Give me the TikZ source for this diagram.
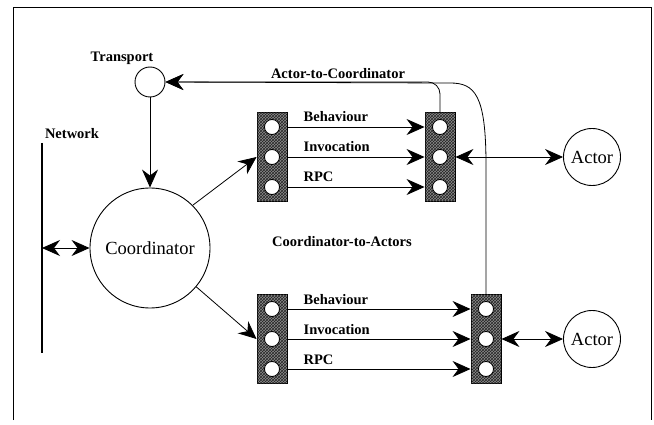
\documentclass[tikz,border=0pt]{standalone}
\usepackage{fontspec}
\setmainfont{Liberation Serif}
\usetikzlibrary{arrows.meta,patterns,positioning}
\tikzstyle{lab} = [font=\bfseries\fontsize{14.5}{16}\selectfont, inner sep=0pt]
\tikzstyle{big} = [draw, circle, line width=0.9pt, font=\fontsize{18.5}{20}\selectfont, inner sep=0pt]
\tikzstyle{port} = [draw, line width=0.9pt, minimum width=30pt, minimum height=89pt, inner sep=0pt, fill=black!45, postaction={pattern=crosshatch, pattern color=black!85}]
\tikzstyle{hole} = [draw, circle, fill=white, line width=0.8pt, minimum size=15pt, inner sep=0pt]
\tikzstyle{tip} = [line width=0.8pt, -{Stealth[length=18pt,width=16pt,inset=6pt]}]
\tikzstyle{tips} = [line width=0.8pt, {Stealth[length=18pt,width=16pt,inset=6pt]}-{Stealth[length=18pt,width=16pt,inset=6pt]}]

\begin{document}
\begin{tikzpicture}[x=1pt,y=-1pt]
  \useasboundingbox (0,0) rectangle (654,425);
  % Frame
  \draw[line width=0.8pt] (13,420) -- (13,7) -- (651,7) -- (651,420);
  % Coordinator side
  \node[big, minimum size=30pt] (tr) at (150,82) {};
  \node[lab] (trl) at (122,58) {Transport};
  \node[big, minimum size=120pt] (co) at (150,248) {Coordinator};
  \node[lab] (nwl) at (72,134) {Network};
  \coordinate (nw1) at (42,143);
  \coordinate (nw2) at (42,353);
  \coordinate (nw) at (42,248);
  \draw[line width=2.6pt] (nw1) -- (nw2);
  \draw[tips] (nw) -- (co.west);
  \draw[tip] (tr.south) -- (co.north);
  % Ports
  \node[port] (pl1) at (272,157) {};
  \node[port] (pr1) at (440,157) {};
  \node[port] (pl2) at (272,339) {};
  \node[port] (pr2) at (486,339) {};
  \foreach \p in {pl1,pr1,pl2,pr2}{
    \node[hole] (\p a) at ([yshift=30pt]\p.center) {};
    \node[hole] (\p b) at (\p.center) {};
    \node[hole] (\p c) at ([yshift=-30pt]\p.center) {};
  }
  % Coordinator-to-Actors
  \draw[tip] (co.45) -- (pl1.west |- pl1b);
  \draw[tip] (co.-40) -- (pl2.west |- pl2b);
  \foreach \l/\r in {pl1/pr1,pl2/pr2}{
    \draw[tip] (\l.east |- \l a) -- (\r.west |- \l a);
    \draw[tip] (\l.east |- \l b) -- (\r.west |- \l b);
    \draw[tip] (\l.east |- \l c) -- (\r.west |- \l c);
    \node[lab, anchor=base west] at ([xshift=16pt,yshift=5pt]\l.east |- \l a) {Behaviour};
    \node[lab, anchor=base west] at ([xshift=16pt,yshift=5pt]\l.east |- \l b) {Invocation};
    \node[lab, anchor=base west] at ([xshift=16pt,yshift=5pt]\l.east |- \l c) {RPC};
  }
  \node[lab] (cal) at (342,242) {Coordinator-to-Actors};
  % Actors
  \node[big, minimum size=57pt] (actA) at (592,157) {Actor};
  \node[big, minimum size=57pt] (actB) at (592,339) {Actor};
  \draw[tips] (pr1.east |- pr1b) -- (actA.west);
  \draw[tips] (pr2.east |- pr2b) -- (actB.west);
  % Actor-to-Coordinator
  \draw[tip, rounded corners=12pt] (pr1.north) |- (tr.east);
  \draw[tip] (pr2.north) -- (486,165) .. controls (486,95) and (475,83) .. (450,83) -- (tr.east);
  \node[lab] (acl) at (338,74) {Actor-to-Coordinator};
\end{tikzpicture}
\end{document}
